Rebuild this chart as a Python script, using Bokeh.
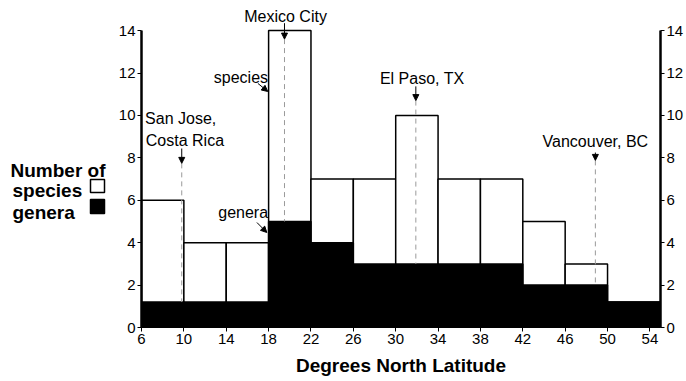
from bokeh.plotting import figure
from bokeh.layouts import row
from bokeh.models import Range1d, LinearAxis, FixedTicker, Label, Arrow, NormalHead
from bokeh.core.properties import value
from bokeh.embed import file_html
from bokeh.resources import INLINE

# ---- data ----
bin_edges = [6, 10, 14, 18, 22, 26, 30, 34, 38, 42, 46, 50, 55]
species = [6, 4, 4, 14, 7, 7, 10, 7, 7, 5, 3, 1.2]
genera = [1.2, 1.2, 1.2, 5, 4, 3, 3, 3, 3, 2, 2, 1.2]
x_ticks = [6, 10, 14, 18, 22, 26, 30, 34, 38, 42, 46, 50, 54]
y_ticks = [0, 2, 4, 6, 8, 10, 12, 14]
city_names = ["San Jose,\nCosta Rica", "Mexico City", "El Paso, TX", "Vancouver, BC"]
city_lat = [9.8, 19.5, 31.9, 48.85]
city_arrow_top = [8.44, 14.35, 11.37, 8.25]
city_arrow_tip = [7.74, 13.6, 10.7, 7.88]
legend_title = "Number of"
legend_items = ["species", "genera"]

FONT = "Liberation Sans"
H = 381
LEG_W = 112
MAIN_W = 686 - LEG_W
y_range = Range1d(0, 15.42)

p = figure(width=MAIN_W, height=H, output_backend="svg", toolbar_location=None,
           x_range=Range1d(6, 55), y_range=y_range,
           min_border_left=141 - LEG_W, min_border_right=23, min_border_top=0, min_border_bottom=54)
p.outline_line_color = None
p.xgrid.visible = False
p.ygrid.visible = False

# bars
p.quad(left=bin_edges[:-1], right=bin_edges[1:], bottom=0, top=species,
       fill_color="white", line_color="black", line_width=1.5)
p.quad(left=bin_edges[:-1], right=bin_edges[1:], bottom=0, top=genera,
       fill_color="black", line_color="black", line_width=1.5)

def genera_at(lat):
    for i in range(len(bin_edges) - 1):
        if bin_edges[i] <= lat < bin_edges[i + 1]:
            return genera[i]
    return 0

p.segment(x0=city_lat, x1=city_lat, y0=city_arrow_tip,
          y1=[genera_at(c) for c in city_lat],
          line_color="#9a9a9a", line_dash="5 4", line_width=1)

# axes
def style_axis(ax, thick):
    ax.axis_line_width = thick
    ax.axis_line_color = "black"
    ax.major_tick_line_color = "black"
    ax.major_tick_line_width = 1
    ax.major_tick_out = 4
    ax.major_tick_in = 0
    ax.minor_tick_line_color = None
    ax.major_label_standoff = 2
    ax.major_label_text_font = FONT
    ax.major_label_text_font_size = "15px"
    ax.major_label_text_color = "black"

p.xaxis.ticker = FixedTicker(ticks=x_ticks)
p.yaxis.ticker = FixedTicker(ticks=y_ticks)
style_axis(p.xaxis[0], 1)
style_axis(p.yaxis[0], 2.5)
p.yaxis.bounds = (0, 14)
p.xaxis.axis_label = "Degrees North Latitude"
p.xaxis.axis_label_text_font = FONT
p.xaxis.axis_label_text_font_size = "19px"
p.xaxis.axis_label_text_font_style = "bold"
p.xaxis.axis_label_text_color = "black"
p.xaxis.axis_label_standoff = 8
ry = LinearAxis(ticker=FixedTicker(ticks=y_ticks), bounds=(0, 14))
style_axis(ry, 2.5)
p.add_layout(ry, "right")

def lab(fig, x, y, t, align="center", size="16px", style="normal", baseline="middle"):
    fig.add_layout(Label(x=x, y=y, text=t, text_align=align, text_baseline=baseline,
                         text_font=FONT, text_font_size=size, text_font_style=style,
                         text_color="black"))

# city labels
sj1, sj2 = city_names[0].split("\n")
lab(p, 9.7, 9.86, sj1)
lab(p, 10.1, 8.82, sj2)
lab(p, 19.6, 14.66, city_names[1])
lab(p, 32.5, 11.75, city_names[2])
lab(p, 48.85, 8.77, city_names[3])
lab(p, 17.95, 11.8, "species", align="right")
lab(p, 17.95, 5.42, "genera", align="right")

for x, y0, y1 in zip(city_lat, city_arrow_top, city_arrow_tip):
    p.add_layout(Arrow(x_start=x, y_start=y0, x_end=x, y_end=y1, line_width=1, line_color="black",
                       end=NormalHead(size=6, fill_color="black", line_color="black")))
p.add_layout(Arrow(x_start=16.99, y_start=11.51, x_end=17.92, y_end=11.13, line_width=1,
                   end=NormalHead(size=6, fill_color="black", line_color="black")))
p.add_layout(Arrow(x_start=16.9, y_start=4.95, x_end=17.83, y_end=4.48, line_width=1,
                   end=NormalHead(size=6, fill_color="black", line_color="black")))

# ---- legend panel (separate figure sharing the y scale) ----
lf = figure(width=LEG_W, height=H, output_backend="svg", toolbar_location=None,
            x_range=Range1d(0, LEG_W), y_range=y_range,
            min_border_left=0, min_border_right=0, min_border_top=0, min_border_bottom=54)
lf.axis.visible = False
lf.grid.visible = False
lf.outline_line_color = None
lf.text(x=[10], y=[7.40], text=[legend_title], text_font=value(FONT), text_font_size="19px",
        text_font_style="bold", text_baseline="alphabetic", text_color="black")
lf.text(x=[12, 12], y=[6.46, 5.42], text=legend_items, text_font=value(FONT),
        text_font_size="19px", text_font_style="bold", text_baseline="alphabetic",
        text_color="black")
lf.quad(left=[90, 90], right=[104, 104], bottom=[6.37, 5.38], top=[6.98, 6.04],
        fill_color=["white", "black"], line_color="black", line_width=1.5)

layout = row(lf, p)
open("out.html", "w").write(file_html(layout, INLINE))
